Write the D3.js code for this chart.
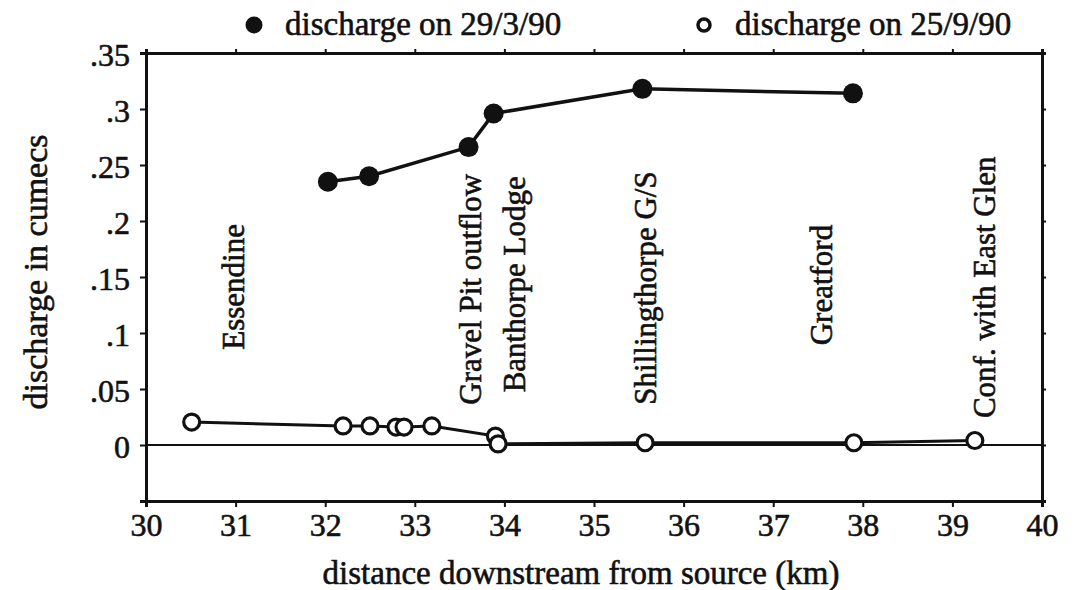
<!DOCTYPE html>
<html>
<head>
<meta charset="utf-8">
<script src="https://cdn.jsdelivr.net/npm/d3@7"></script>
<style>
  html, body { margin: 0; padding: 0; background: #fff; }
  svg { display: block; }
  text { font-family: "Liberation Serif", "Times New Roman", serif; fill: #111; stroke: #111; stroke-width: 0.6px; }
</style>
</head>
<body>
<svg id="chart" width="1076" height="590"></svg>
<script>
// ---- data ----
const marchDistance = [32.03, 32.49, 33.60, 33.88, 35.54, 37.89];
const marchDischarge = [0.235, 0.240, 0.266, 0.296, 0.318, 0.314];

const septDistance = [30.51, 32.20, 32.50, 32.79, 32.88, 33.19, 33.90, 33.93, 35.57, 37.90, 39.25];
const septDischarge = [0.0205, 0.017, 0.017, 0.016, 0.016, 0.017, 0.008, 0.001, 0.002, 0.002, 0.004];

const siteNames = ["Essendine", "Gravel Pit outflow", "Banthorpe Lodge", "Shillingthorpe G/S", "Greatford", "Conf. with East Glen"];
const siteDistance = [30.97, 33.62, 34.11, 35.57, 37.54, 39.35];
const siteLabelBase = [0.085, 0.036, 0.047, 0.036, 0.089, 0.024];

const xTicks = [30, 31, 32, 33, 34, 35, 36, 37, 38, 39, 40];
const yTicks = [0, 0.05, 0.1, 0.15, 0.2, 0.25, 0.3, 0.35];
const yTickLabels = ["0", ".05", ".1", ".15", ".2", ".25", ".3", ".35"];

const legendLabels = ["discharge on 29/3/90", "discharge on 25/9/90"];
const xTitle = "distance downstream from source (km)";
const yTitle = "discharge in cumecs";

// ---- layout ----
const svg = d3.select("#chart");
const mLeft = 146, mRight = 1042, mTop = 53, mBottom = 501;
const x = d3.scaleLinear().domain([30, 40]).range([mLeft, mRight]);
const y = d3.scaleLinear().domain([-0.05, 0.35]).range([mBottom, mTop]);

const fs = 32;

// axes
const gL = svg.append("g").attr("transform", `translate(${mLeft},0)`)
  .call(d3.axisLeft(y).tickValues(yTicks).tickSize(6).tickPadding(10)
    .tickFormat((d, i) => yTickLabels[i]));
const gR = svg.append("g").attr("transform", `translate(${mRight},0)`)
  .call(d3.axisRight(y).tickValues(yTicks).tickSize(4).tickFormat(""));
const gB = svg.append("g").attr("transform", `translate(0,${mBottom})`)
  .call(d3.axisBottom(x).tickValues(xTicks).tickSize(6).tickPadding(6)
    .tickFormat(d3.format("d")));
const gT = svg.append("g").attr("transform", `translate(0,${mTop})`)
  .call(d3.axisTop(x).tickValues(xTicks).tickSize(4).tickFormat(""));

[gL, gR, gB, gT].forEach(g => {
  g.select(".domain").attr("stroke", "#111").attr("stroke-width", 3);
  g.selectAll(".tick line").attr("stroke", "#111").attr("stroke-width", 2);
  g.selectAll("text").style("font-size", fs + "px")
    .style("font-family", '"Liberation Serif", serif').attr("fill", "#111");
});
gL.selectAll(".tick text").attr("dy", "0.38em");

// zero line
svg.append("line")
  .attr("x1", x(30)).attr("x2", x(40))
  .attr("y1", y(0)).attr("y2", y(0))
  .attr("stroke", "#111").attr("stroke-width", 2);

// site labels
siteNames.forEach((name, i) => {
  svg.append("text")
    .attr("transform", `translate(${x(siteDistance[i])},${y(siteLabelBase[i])}) rotate(-90)`)
    .attr("dy", "0.35em")
    .style("font-size", "31px")
    .text(name);
});

// lines
const line = d3.line().x(d => x(d[0])).y(d => y(d[1]));
const marchPts = marchDistance.map((d, i) => [d, marchDischarge[i]]);
const septPts = septDistance.map((d, i) => [d, septDischarge[i]]);

svg.append("path").datum(septPts).attr("d", line)
  .attr("fill", "none").attr("stroke", "#111").attr("stroke-width", 3);
svg.append("path").datum(marchPts).attr("d", line)
  .attr("fill", "none").attr("stroke", "#111").attr("stroke-width", 3.5);

svg.selectAll(".sept").data(septPts).enter().append("circle")
  .attr("cx", d => x(d[0])).attr("cy", d => y(d[1])).attr("r", 8)
  .attr("fill", "#fff").attr("stroke", "#111").attr("stroke-width", 3.2);
svg.selectAll(".march").data(marchPts).enter().append("circle")
  .attr("cx", d => x(d[0])).attr("cy", d => y(d[1])).attr("r", 10)
  .attr("fill", "#111");

// legend
svg.append("circle").attr("cx", 254).attr("cy", 25).attr("r", 8.5).attr("fill", "#111");
svg.append("text").attr("x", 285).attr("y", 35).style("font-size", "33px").text(legendLabels[0]);
svg.append("circle").attr("cx", 704).attr("cy", 25).attr("r", 6).attr("fill", "#fff")
  .attr("stroke", "#111").attr("stroke-width", 3.5);
svg.append("text").attr("x", 735).attr("y", 35).style("font-size", "33px").text(legendLabels[1]);

// axis titles
svg.append("text").attr("x", 581).attr("y", 584).attr("text-anchor", "middle")
  .style("font-size", "33px").text(xTitle);
svg.append("text").attr("transform", `translate(35,272) rotate(-90)`)
  .attr("text-anchor", "middle").attr("dy", "0.35em")
  .style("font-size", "34px").text(yTitle);
</script>
</body>
</html>
